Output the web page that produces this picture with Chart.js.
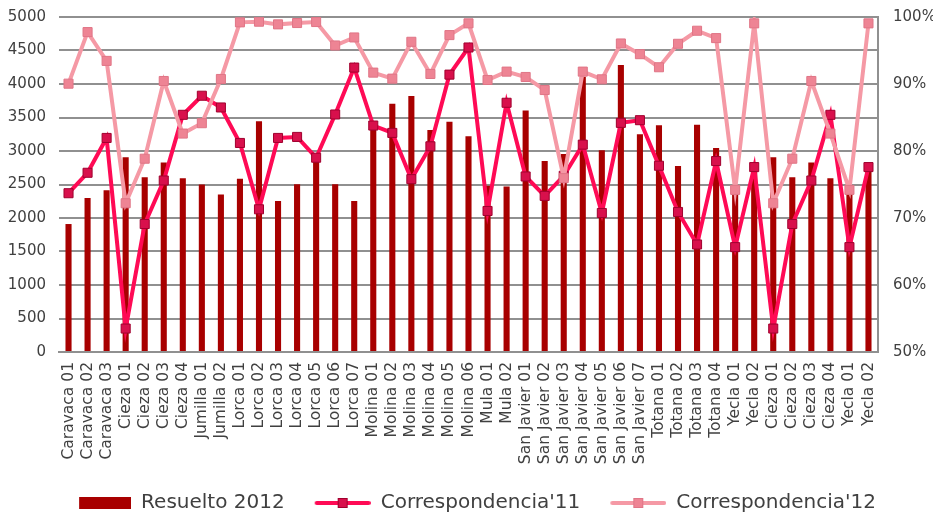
<!DOCTYPE html>
<html>
<head>
<meta charset="utf-8">
<script src="https://cdn.jsdelivr.net/npm/chart.js@4/dist/chart.umd.min.js"></script>
<style>
  html, body { margin: 0; padding: 0; background: #ffffff; overflow: hidden; }
  #wrap { width: 933px; height: 512px; overflow: hidden; }
  canvas { display: block; }
</style>
</head>
<body>
<div id="wrap"><canvas id="c" width="933" height="523"></canvas></div>
<script>
const categories = ['Caravaca 01','Caravaca 02','Caravaca 03','Cieza 01','Cieza 02','Cieza 03','Cieza 04',
  'Jumilla 01','Jumilla 02','Lorca 01','Lorca 02','Lorca 03','Lorca 04','Lorca 05','Lorca 06','Lorca 07',
  'Molina 01','Molina 02','Molina 03','Molina 04','Molina 05','Molina 06','Mula 01','Mula 02',
  'San Javier 01','San Javier 02','San Javier 03','San Javier 04','San Javier 05','San Javier 06','San Javier 07',
  'Totana 01','Totana 02','Totana 03','Totana 04','Yecla 01','Yecla 02',
  'Cieza 01','Cieza 02','Cieza 03','Cieza 04','Yecla 01','Yecla 02'];

const resuelto2012 = [1910,2300,2415,2905,2610,2830,2595,2500,2350,2585,3445,2255,2505,2880,2505,2255,
  3390,3705,3820,3315,3435,3220,2480,2470,3605,2850,2955,4110,3010,4285,3250,
  3385,2775,3390,3045,2380,2800,2905,2610,2830,2595,2380,2800];

const correspondencia11 = [73.7,76.75,81.95,53.5,69.1,75.6,85.4,88.25,86.5,81.2,71.3,81.95,82.1,79.0,85.45,92.45,
  83.8,82.7,75.8,80.7,91.4,95.45,71.05,87.2,76.2,73.3,76.3,80.95,70.75,84.2,84.6,
  77.8,70.9,66.05,78.5,65.65,77.6,53.5,69.1,75.6,85.4,65.65,77.6];

const correspondencia12 = [90.05,97.75,93.45,72.2,78.85,90.45,82.6,84.15,90.75,99.2,99.3,98.9,99.1,99.25,95.75,96.95,
  91.7,90.8,96.3,91.5,97.3,99.05,90.6,91.85,91.05,89.1,75.95,91.85,90.7,96.05,94.45,
  92.5,96.0,97.95,96.85,74.2,99.05,72.2,78.85,90.45,82.6,74.2,99.05];

const leftTicks = [0,500,1000,1500,2000,2500,3000,3500,4000,4500,5000];
const rightTicks = [50,60,70,80,90,100];

const FONT = "'DejaVu Sans', sans-serif";
const TXT = '#404040';
const BAR_C = '#A80000';
const L11 = '#FF0A55';
const P11 = '#D8104C';
const P11B = '#A0002E';
const L12 = '#F599A5';
const P12 = '#EE8494';
const P12B = '#E07586';
const IMG_W = 74;

function boxImg() {
  const c = document.createElement('canvas'); c.width = IMG_W; c.height = 12;
  const g = c.getContext('2d'); g.fillStyle = BAR_C; g.fillRect(IMG_W - 52, 0, 52, 12); return c;
}
function lineImg(lc, pc, pb) {
  const c = document.createElement('canvas'); c.width = IMG_W; c.height = 14;
  const g = c.getContext('2d');
  const x0 = IMG_W - 56;
  g.strokeStyle = lc; g.lineWidth = 4; g.lineCap = 'round';
  g.beginPath(); g.moveTo(x0 + 2, 7); g.lineTo(x0 + 54, 7); g.stroke();
  g.fillStyle = pc; g.fillRect(x0 + 23.5, 2.5, 9, 9);
  g.strokeStyle = pb; g.lineWidth = 1; g.strokeRect(x0 + 23.5, 2.5, 9, 9);
  return c;
}
const legendImgs = [boxImg(), lineImg(L11,P11,P11B), lineImg(L12,P12,P12B)];

function noVPad(s, w) { s.width = w; s.paddingTop = 0; s.paddingBottom = 0; }

new Chart(document.getElementById('c'), {
  data: {
    labels: categories,
    datasets: [
      { type: 'bar', label: 'Resuelto 2012', data: resuelto2012, yAxisID: 'y',
        backgroundColor: BAR_C, borderWidth: 0, barPercentage: 0.32, categoryPercentage: 1, order: 3 },
      { type: 'line', label: "Correspondencia'11", data: correspondencia11, yAxisID: 'y1',
        borderColor: L11, borderWidth: 4, pointStyle: 'rect', pointRadius: 6.4,
        pointBackgroundColor: P11, pointBorderColor: P11B, pointBorderWidth: 1, tension: 0, order: 2 },
      { type: 'line', label: "Correspondencia'12", data: correspondencia12, yAxisID: 'y1',
        borderColor: L12, borderWidth: 4, pointStyle: 'rect', pointRadius: 6.4,
        pointBackgroundColor: P12, pointBorderColor: P12B, pointBorderWidth: 1, tension: 0, order: 1 }
    ]
  },
  options: {
    responsive: false,
    animation: false,
    layout: { padding: { top: 17, left: 0, right: 0, bottom: 0 } },
    plugins: {
      tooltip: { enabled: false },
      legend: {
        position: 'bottom',
        labels: {
          usePointStyle: true,
          pointStyleWidth: IMG_W,
          padding: 12,
          color: TXT,
          font: { family: FONT, size: 20 },
          generateLabels: (chart) => chart.data.datasets.map((ds, i) => ({
            text: ds.label, datasetIndex: i, pointStyle: legendImgs[i],
            fontColor: TXT, hidden: false, lineWidth: 0, strokeStyle: 'transparent', fillStyle: 'transparent'
          }))
        }
      }
    },
    scales: {
      x: {
        grid: { display: false, drawTicks: false },
        border: { display: true, color: '#909090', width: 2 },
        ticks: { autoSkip: false, maxRotation: 90, minRotation: 90, padding: 10, color: TXT,
                 font: { family: FONT, size: 15.5 } },
        afterFit: (s) => { s.height = 129; }
      },
      y: {
        position: 'left', min: 0, max: 5000,
        afterBuildTicks: (s) => { s.ticks = leftTicks.map(v => ({ value: v })); },
        grid: { color: '#909090', lineWidth: 2, drawTicks: false },
        border: { display: false },
        ticks: { padding: 13, color: TXT, font: { family: FONT, size: 15 }, callback: (v) => String(v) },
        afterFit: (s) => noVPad(s, 59)
      },
      y1: {
        position: 'right', min: 50, max: 100,
        afterBuildTicks: (s) => { s.ticks = rightTicks.map(v => ({ value: v })); },
        grid: { display: false, drawTicks: false },
        border: { display: true, color: '#909090', width: 2 },
        ticks: { padding: 15, color: TXT, font: { family: FONT, size: 15 }, callback: (v) => v + '%' },
        afterFit: (s) => noVPad(s, 55)
      }
    }
  }
});
</script>
</body>
</html>
